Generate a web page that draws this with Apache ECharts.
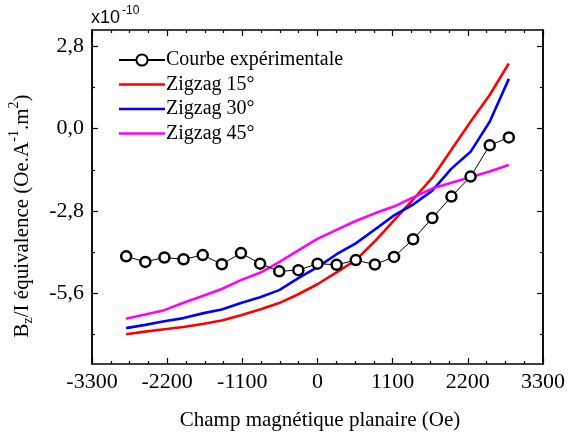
<!DOCTYPE html>
<html><head><meta charset="utf-8">
<script src="https://cdn.jsdelivr.net/npm/echarts@6/dist/echarts.min.js"></script>
<style>html,body{margin:0;padding:0;background:#fff}#c{width:568px;height:436px}</style>
</head><body><div id="c"></div>
<script>
const fieldX = [-2800,-2520,-2240,-1960,-1680,-1400,-1120,-840,-560,-280,0,280,560,840,1120,1400,1680,1960,2240,2520,2800];
const experimental = [-4.34,-4.53,-4.38,-4.44,-4.30,-4.61,-4.23,-4.59,-4.85,-4.81,-4.59,-4.63,-4.47,-4.62,-4.36,-3.76,-3.04,-2.31,-1.63,-0.57,-0.30];
const zigzag15 = [-6.99,-6.90,-6.82,-6.74,-6.64,-6.52,-6.34,-6.15,-5.93,-5.63,-5.29,-4.89,-4.47,-3.83,-3.12,-2.41,-1.67,-0.72,0.23,1.14,2.21];
const zigzag30 = [-6.78,-6.67,-6.55,-6.44,-6.28,-6.15,-5.93,-5.73,-5.49,-5.08,-4.71,-4.27,-3.90,-3.43,-2.95,-2.58,-2.11,-1.36,-0.79,0.23,1.69];
const zigzag45 = [-6.46,-6.32,-6.17,-5.92,-5.69,-5.45,-5.15,-4.90,-4.54,-4.14,-3.75,-3.44,-3.14,-2.88,-2.65,-2.34,-2.04,-1.84,-1.65,-1.46,-1.24];
const seriesNames = ['Courbe expérimentale','Zigzag 15°','Zigzag 30°','Zigzag 45°'];
const yMajorTicks = [-5.6,-2.8,0,2.8];
const yMinorTicks = [-7.0,-4.2,-1.4,1.4];
// y-axis title pieces: [text, kind] kind: n normal, s subscript, p superscript
const yTitleParts = [['B','n'],['z','s'],['/I équivalence (Oe.A','n'],['-1','p'],['.m','n'],['2','p'],[')','n']];

const FONT = 'Liberation Serif';
const TFONT = '"Times New Roman", "Liberation Serif", serif';
const pair = arr => fieldX.map((x,i)=>[x,arr[i]]);
const axisLine = {show:true, onZero:false, lineStyle:{color:'#000', width:1.5}};
const chart = echarts.init(document.getElementById('c'));
const yBase = {type:'value', min:-8.0, max:3.35, splitLine:{show:false}, axisLine};
const lineIcon = 'path://M0,0L46,0L46,2.6L0,2.6Z';

// build rotated y title from plain text pieces
const ctx = document.createElement('canvas').getContext('2d');
const sizeOf = k => k === 'n' ? 21 : 14;
const offOf = k => k === 's' ? 6 : (k === 'p' ? -8 : 0);
const widths = yTitleParts.map(([t,k]) => { ctx.font = sizeOf(k) + 'px ' + TFONT; return ctx.measureText(t).width; });
const total = widths.reduce((a,b)=>a+b,0);
let cx = -total/2;
const titleChildren = yTitleParts.map(([t,k],i) => {
  const el = {type:'text', x:cx, y:offOf(k), style:{text:t, font:'normal ' + sizeOf(k) + 'px ' + TFONT, fontFamily:TFONT, fontSize:sizeOf(k), fontWeight:'normal', fill:'#000', align:'left', verticalAlign:'middle'}};
  cx += widths[i];
  return el;
});

chart.setOption({
  animation:false,
  grid:{left:92, right:25, top:30, bottom:72},
  legend:{
    orient:'vertical', left:113, top:45, itemWidth:46, itemHeight:14, itemGap:4.5,
    textStyle:{fontFamily:FONT, fontSize:20, color:'#000', lineHeight:20, padding:[0,0,0,-4]},
    data:[{name:seriesNames[0]},{name:seriesNames[1], icon:lineIcon},{name:seriesNames[2], icon:lineIcon},{name:seriesNames[3], icon:lineIcon}]
  },
  xAxis:[
    {type:'value', min:-3300, max:3300, interval:1100, position:'bottom',
     axisLine, splitLine:{show:false},
     axisTick:{inside:true, length:6, lineStyle:{color:'#000', width:1.2}},
     minorTick:{show:true, splitNumber:4, length:3, lineStyle:{color:'#000', width:1.2}},
     axisLabel:{fontFamily:FONT, fontSize:22, color:'#000', margin:7, formatter:v=>String(v)}},
    {type:'value', min:-3300, max:3300, interval:1100, position:'top',
     axisLine, splitLine:{show:false},
     axisTick:{inside:true, length:6, lineStyle:{color:'#000', width:1.2}},
     minorTick:{show:true, splitNumber:4, length:3, lineStyle:{color:'#000', width:1.2}},
     axisLabel:{show:false}}
  ],
  yAxis:[
    Object.assign({}, yBase, {position:'left',
      axisTick:{inside:true, length:6, customValues:yMajorTicks, lineStyle:{color:'#000', width:1.2}},
      axisLabel:{customValues:yMajorTicks, fontFamily:FONT, fontSize:22, color:'#000', margin:8,
        formatter:v=>v.toFixed(1).replace('.',',')}}),
    Object.assign({}, yBase, {position:'left',
      axisTick:{inside:true, length:3, customValues:yMinorTicks, lineStyle:{color:'#000', width:1.2}},
      axisLabel:{show:false}}),
    Object.assign({}, yBase, {position:'right',
      axisTick:{inside:true, length:6, customValues:yMajorTicks, lineStyle:{color:'#000', width:1.2}},
      axisLabel:{show:false}}),
    Object.assign({}, yBase, {position:'right',
      axisTick:{inside:true, length:3, customValues:yMinorTicks, lineStyle:{color:'#000', width:1.2}},
      axisLabel:{show:false}})
  ],
  series:[
    {name:seriesNames[1], type:'line', data:pair(zigzag15), symbol:'none', lineStyle:{color:'#ff0000', width:2.6}, itemStyle:{color:'#ff0000'}, z:2},
    {name:seriesNames[2], type:'line', data:pair(zigzag30), symbol:'none', lineStyle:{color:'#0000ff', width:2.6}, itemStyle:{color:'#0000ff'}, z:2},
    {name:seriesNames[3], type:'line', data:pair(zigzag45), symbol:'none', lineStyle:{color:'#ff00ff', width:2.6}, itemStyle:{color:'#ff00ff'}, z:2},
    {name:seriesNames[0], type:'line', data:pair(experimental), symbol:'circle', symbolSize:10,
     lineStyle:{color:'#000', width:1}, itemStyle:{color:'#fff', borderColor:'#000', borderWidth:2.5}, z:3}
  ],
  graphic:[
    {type:'text', x:91, y:27, style:{text:'x10', fontFamily:'Liberation Sans', fontSize:18, fill:'#000', verticalAlign:'bottom'}},
    {type:'text', x:122, y:5, style:{text:'-10', fontFamily:'Liberation Sans', fontSize:12, fill:'#000', verticalAlign:'top'}},
    {type:'group', x:22, y:216, rotation:Math.PI/2, children:titleChildren},
    {type:'text', x:320, y:420, style:{text:'Champ magnétique planaire (Oe)', fontFamily:FONT, fontSize:21, fill:'#000', align:'center', verticalAlign:'middle'}}
  ]
});
</script></body></html>
